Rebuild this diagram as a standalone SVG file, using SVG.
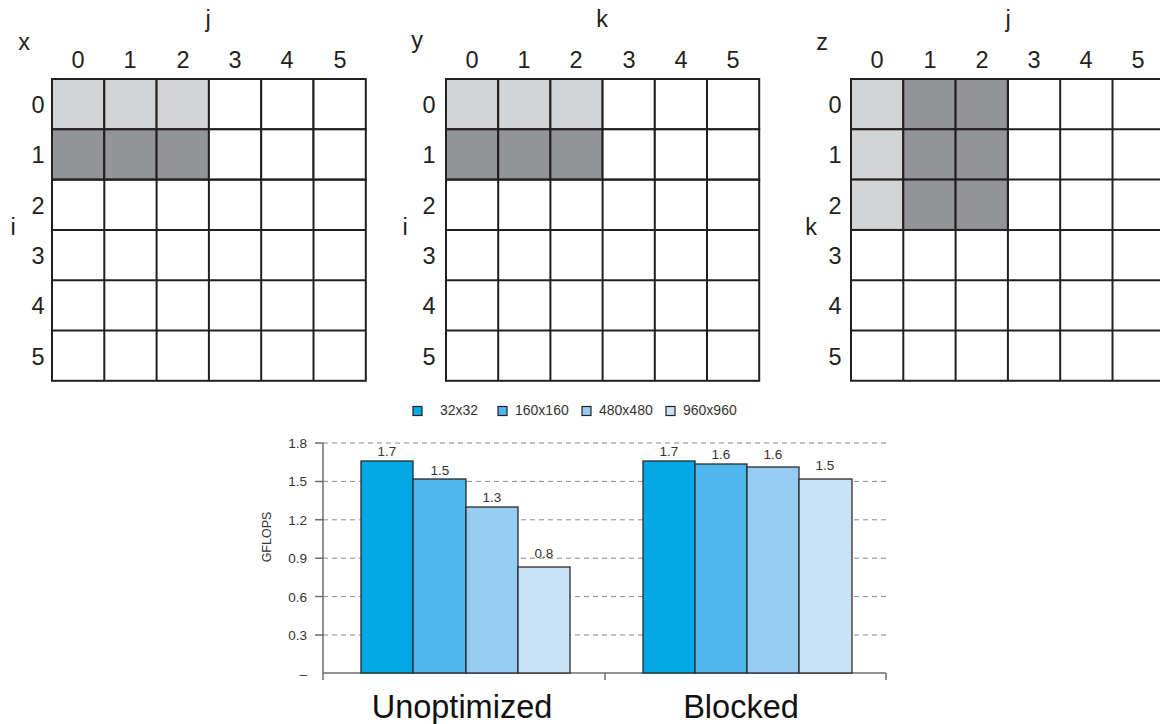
<svg xmlns="http://www.w3.org/2000/svg" width="1160" height="724" viewBox="0 0 1160 724">
<defs>
<style>
.t{font-family:"Liberation Sans",Arial,sans-serif;fill:#231f20}
.big{font-size:23.5px}
.cell{stroke:#231f20;stroke-width:2}
.w{fill:#ffffff}
.l{fill:#d3d4d6}
.d{fill:#939497}
.grid{stroke:#8a8a8a;stroke-width:1;stroke-dasharray:5,4}
.ax{stroke:#6d6d6d;stroke-width:1.5;fill:none}
.bar{stroke:#2a2a2a;stroke-width:1.3}
.b1{fill:#00a8e6}
.b2{fill:#4db6ec}
.b3{fill:#96ccf2}
.b4{fill:#c8e3f7}
.val{font-family:"Liberation Sans",Arial,sans-serif;font-size:13.5px;fill:#333;text-anchor:middle}
.tick{font-family:"Liberation Sans",Arial,sans-serif;font-size:13.5px;fill:#333;text-anchor:end}
.leg{font-family:"Liberation Sans",Arial,sans-serif;font-size:14px;fill:#333}
.cat{font-family:"Liberation Sans",Arial,sans-serif;font-size:32.5px;fill:#111;text-anchor:middle}
</style>
</defs>
<rect width="1160" height="724" fill="#ffffff"/>

<!-- Matrix x -->
<g id="matrix-x">
<g class="cell">
<rect class="l" x="52" y="79" width="52.3" height="50.3"/><rect class="l" x="104.3" y="79" width="52.3" height="50.3"/><rect class="l" x="156.6" y="79" width="52.3" height="50.3"/>
<rect class="w" x="208.9" y="79" width="52.3" height="50.3"/><rect class="w" x="261.2" y="79" width="52.3" height="50.3"/><rect class="w" x="313.5" y="79" width="52.3" height="50.3"/>
<rect class="d" x="52" y="129.3" width="52.3" height="50.3"/><rect class="d" x="104.3" y="129.3" width="52.3" height="50.3"/><rect class="d" x="156.6" y="129.3" width="52.3" height="50.3"/>
<rect class="w" x="208.9" y="129.3" width="52.3" height="50.3"/><rect class="w" x="261.2" y="129.3" width="52.3" height="50.3"/><rect class="w" x="313.5" y="129.3" width="52.3" height="50.3"/>
</g>
<g fill="none" stroke="#231f20" stroke-width="2">
<rect x="52" y="179.6" width="313.8" height="201.2"/>
<path d="M104.3 179.6V380.8M156.6 179.6V380.8M208.9 179.6V380.8M261.2 179.6V380.8M313.5 179.6V380.8M52 229.9H365.8M52 280.2H365.8M52 330.5H365.8"/>
</g>
<g class="t big" text-anchor="middle">
<text x="24" y="50">x</text><text x="208" y="27">j</text><text x="13" y="235">i</text>
<text x="78" y="68">0</text><text x="130" y="68">1</text><text x="183" y="68">2</text><text x="235" y="68">3</text><text x="287" y="68">4</text><text x="340" y="68">5</text>
<text x="38" y="113">0</text><text x="38" y="163">1</text><text x="38" y="214">2</text><text x="38" y="264">3</text><text x="38" y="314">4</text><text x="38" y="365">5</text>
</g>
</g>

<!-- Matrix y -->
<g id="matrix-y">
<g class="cell">
<rect class="l" x="446" y="79" width="52.2" height="50.3"/><rect class="l" x="498.2" y="79" width="52.2" height="50.3"/><rect class="l" x="550.4" y="79" width="52.2" height="50.3"/>
<rect class="w" x="602.6" y="79" width="52.2" height="50.3"/><rect class="w" x="654.8" y="79" width="52.2" height="50.3"/><rect class="w" x="707" y="79" width="52.2" height="50.3"/>
<rect class="d" x="446" y="129.3" width="52.2" height="50.3"/><rect class="d" x="498.2" y="129.3" width="52.2" height="50.3"/><rect class="d" x="550.4" y="129.3" width="52.2" height="50.3"/>
<rect class="w" x="602.6" y="129.3" width="52.2" height="50.3"/><rect class="w" x="654.8" y="129.3" width="52.2" height="50.3"/><rect class="w" x="707" y="129.3" width="52.2" height="50.3"/>
</g>
<g fill="none" stroke="#231f20" stroke-width="2">
<rect x="446" y="179.6" width="313.2" height="201.2"/>
<path d="M498.2 179.6V380.8M550.4 179.6V380.8M602.6 179.6V380.8M654.8 179.6V380.8M707 179.6V380.8M446 229.9H759.2M446 280.2H759.2M446 330.5H759.2"/>
</g>
<g class="t big" text-anchor="middle">
<text x="417" y="48">y</text><text x="602" y="27">k</text><text x="405" y="235">i</text>
<text x="472" y="68">0</text><text x="524" y="68">1</text><text x="576" y="68">2</text><text x="629" y="68">3</text><text x="681" y="68">4</text><text x="733" y="68">5</text>
<text x="429" y="113">0</text><text x="429" y="163">1</text><text x="429" y="214">2</text><text x="429" y="264">3</text><text x="429" y="314">4</text><text x="429" y="365">5</text>
</g>
</g>

<!-- Matrix z -->
<g id="matrix-z">
<g class="cell">
<rect class="l" x="851" y="79" width="52.3" height="50.3"/><rect class="d" x="903.3" y="79" width="52.3" height="50.3"/><rect class="d" x="955.6" y="79" width="52.3" height="50.3"/>
<rect class="l" x="851" y="129.3" width="52.3" height="50.3"/><rect class="d" x="903.3" y="129.3" width="52.3" height="50.3"/><rect class="d" x="955.6" y="129.3" width="52.3" height="50.3"/>
<rect class="l" x="851" y="179.6" width="52.3" height="50.3"/><rect class="d" x="903.3" y="179.6" width="52.3" height="50.3"/><rect class="d" x="955.6" y="179.6" width="52.3" height="50.3"/>
</g>
<g fill="none" stroke="#231f20" stroke-width="2">
<path d="M851 79V380.8H1166M851 79H1166M1007.9 79V380.8M1060.2 79V380.8M1112.5 79V380.8M1007.9 129.3H1166M1007.9 179.6H1166M851 229.9H1166M851 280.2H1166M851 330.5H1166M903.3 229.9V380.8M955.6 229.9V380.8"/>
</g>
<g class="t big" text-anchor="middle">
<text x="822" y="50">z</text><text x="1008" y="27">j</text><text x="811" y="235">k</text>
<text x="877" y="68">0</text><text x="930" y="68">1</text><text x="982" y="68">2</text><text x="1034" y="68">3</text><text x="1086" y="68">4</text><text x="1138" y="68">5</text>
<text x="835" y="113">0</text><text x="835" y="163">1</text><text x="835" y="214">2</text><text x="835" y="264">3</text><text x="835" y="314">4</text><text x="835" y="365">5</text>
</g>
</g>

<!-- Chart -->
<g id="legend">
<rect class="b1" x="413" y="406.5" width="9" height="9" stroke="#222" stroke-width="1.2"/><text class="leg" x="440" y="415">32x32</text>
<rect class="b2" x="498" y="406.5" width="9" height="9" stroke="#222" stroke-width="1.2"/><text class="leg" x="515" y="415">160x160</text>
<rect class="b3" x="582" y="406.5" width="9" height="9" stroke="#222" stroke-width="1.2"/><text class="leg" x="599" y="415">480x480</text>
<rect class="b4" x="666" y="406.5" width="9" height="9" stroke="#222" stroke-width="1.2"/><text class="leg" x="683" y="415">960x960</text>
</g>

<g id="axes">
<path class="grid" d="M323 443H886M323 481.4H886M323 519.8H886M323 558.2H886M323 596.6H886M323 635H886"/>
<path class="ax" d="M323 443V680M323 673H886M605 673V680M886 673V680M315 443H323M315 481.4H323M315 519.8H323M315 558.2H323M315 596.6H323M315 635H323"/>
<g class="tick">
<text x="307" y="448">1.8</text><text x="307" y="486">1.5</text><text x="307" y="525">1.2</text><text x="307" y="563">0.9</text><text x="307" y="602">0.6</text><text x="307" y="640">0.3</text><text x="307" y="679">–</text>
</g>
<text x="271" y="537" transform="rotate(-90 271 537)" text-anchor="middle" font-family="'Liberation Sans',Arial,sans-serif" font-size="12.5" fill="#333">GFLOPS</text>
</g>

<g id="bars-unoptimized">
<rect class="bar b1" x="361" y="461" width="52" height="212"/>
<rect class="bar b2" x="413" y="479" width="53" height="194"/>
<rect class="bar b3" x="466" y="507" width="52" height="166"/>
<rect class="bar b4" x="518" y="567" width="52" height="106"/>
<text class="val" x="387" y="456">1.7</text>
<text class="val" x="440" y="475">1.5</text>
<text class="val" x="492" y="502">1.3</text>
<text class="val" x="544" y="558">0.8</text>
<text class="cat" x="462" y="718">Unoptimized</text>
</g>

<g id="bars-blocked">
<rect class="bar b1" x="643" y="461" width="52" height="212"/>
<rect class="bar b2" x="695" y="464" width="52" height="209"/>
<rect class="bar b3" x="747" y="467" width="52" height="206"/>
<rect class="bar b4" x="799" y="479" width="53" height="194"/>
<text class="val" x="669" y="456">1.7</text>
<text class="val" x="721" y="459">1.6</text>
<text class="val" x="773" y="459">1.6</text>
<text class="val" x="825" y="470">1.5</text>
<text class="cat" x="741" y="718">Blocked</text>
</g>
</svg>
